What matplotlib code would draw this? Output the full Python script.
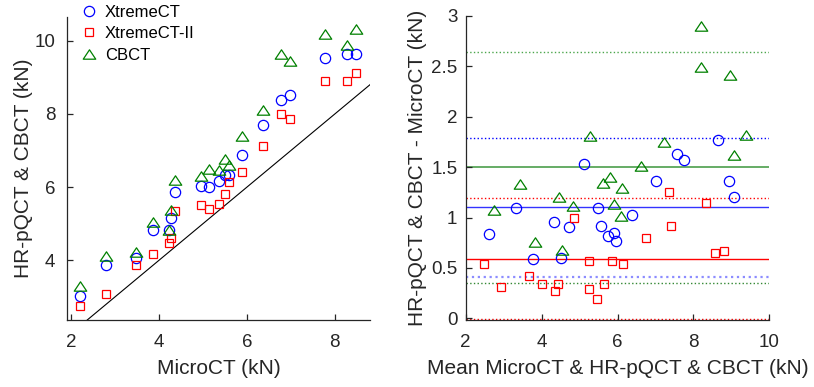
import matplotlib
matplotlib.use("Agg")
import matplotlib.pyplot as plt
from matplotlib.path import Path
import numpy as np

plt.rcParams['font.family'] = ['Liberation Sans', 'DejaVu Sans']

# ---- Left panel data (MicroCT vs device) ----
micro = [2.205, 2.788, 3.477, 3.856, 4.22, 4.28, 4.36, 4.95, 5.13, 5.36,
         5.51, 5.60, 5.89, 6.36, 6.77, 6.98, 7.77, 8.28, 8.48]
xtreme = [3.03, 3.86, 4.06, 4.82, 4.82, 5.17, 5.88, 6.03, 6.01, 6.17,
          6.33, 6.34, 6.89, 7.70, 8.38, 8.52, 9.52, 9.63, 9.65]
xtreme2 = [2.75, 3.08, 3.87, 4.18, 4.48, 4.62, 5.36, 5.51, 5.39, 5.54,
           5.82, 6.15, 6.41, 7.13, 8.00, 7.87, 8.89, 8.90, 9.13]
cbct = [3.30, 4.13, 4.24, 5.05, 4.84, 5.37, 6.19, 6.30, 6.51, 6.48,
        6.78, 6.60, 7.40, 8.11, 9.65, 9.45, 10.18, 9.88, 10.31]

# ---- Right panel data (mean vs difference) ----
xt_mean = [2.62, 3.33, 3.77, 4.33, 4.51, 4.73, 5.13, 5.49, 5.56, 5.76,
           5.91, 5.97, 6.39, 7.02, 7.57, 7.75, 8.64, 8.94, 9.06]
xt_diff = [0.834, 1.09, 0.59, 0.96, 0.60, 0.906, 1.53, 1.09, 0.916, 0.82,
           0.85, 0.77, 1.025, 1.36, 1.634, 1.57, 1.77, 1.36, 1.20]
x2_mean = [2.47, 2.93, 3.68, 4.02, 4.34, 4.44, 4.85, 5.24, 5.26, 5.45,
           5.64, 5.86, 6.14, 6.74, 7.36, 7.41, 8.32, 8.58, 8.80]
x2_diff = [0.54, 0.31, 0.42, 0.34, 0.275, 0.34, 1.00, 0.566, 0.294, 0.195,
           0.34, 0.572, 0.54, 0.797, 1.254, 0.916, 1.14, 0.645, 0.67]
cb_mean = [2.74, 3.44, 3.83, 4.45, 4.55, 4.83, 5.27, 5.61, 5.81, 5.92,
           6.12, 6.08, 6.63, 7.22, 8.20, 8.20, 8.96, 9.06, 9.38]
cb_diff = [1.075, 1.33, 0.754, 1.20, 0.68, 1.11, 1.81, 1.34, 1.40, 1.135,
           1.29, 1.02, 1.515, 1.75, 2.90, 2.49, 2.41, 1.62, 1.82]

# bias and limits of agreement: [lower, mean, upper]
xt_lines = [0.413, 1.101, 1.789]
x2_lines = [-0.012, 0.588, 1.19]
cb_lines = [0.347, 1.498, 2.642]

labels = ['XtremeCT', 'XtremeCT-II', 'CBCT']

BLUE = '#0000ff'
RED = '#ff0000'
GREEN = '#008000'
AX = '#262626'

tri = Path([(0, 0.75), (-1, -0.75), (1, -0.75), (0, 0.75)],
           [Path.MOVETO, Path.LINETO, Path.LINETO, Path.CLOSEPOLY])

mk_circ = dict(marker='o', ms=7.4, mfc='none', mec=BLUE, mew=0.9, ls='none')
mk_sq = dict(marker='s', ms=6.0, mfc='none', mec=RED, mew=0.9, ls='none')
mk_tri = dict(marker=tri, ms=9.0, mfc='none', mec=GREEN, mew=0.9, ls='none')

fig = plt.figure(figsize=(8.14, 3.87), dpi=100)
ax1 = fig.add_axes([67/814, 1-320/387, 303/814, 303/387])
ax2 = fig.add_axes([465.7/814, 1-320/387, 303.6/814, 304/387])


def style(ax, ypad):
    for s in ['top', 'right']:
        ax.spines[s].set_visible(False)
    for s in ['left', 'bottom']:
        ax.spines[s].set_color(AX)
        ax.spines[s].set_linewidth(0.9)
    ax.tick_params(direction='in', length=4, width=0.9, colors=AX,
                   labelsize=13.5)
    ax.tick_params(axis='x', pad=10)
    ax.tick_params(axis='y', pad=ypad)


# Left
ax1.set_xlim(1.91, 8.8)
ax1.set_ylim(2.37, 10.65)
ax1.plot([0, 12], [0, 12], color='black', lw=0.8, zorder=1)
h1, = ax1.plot(micro, xtreme, **mk_circ, label=labels[0])
h2, = ax1.plot(micro, xtreme2, **mk_sq, label=labels[1])
h3, = ax1.plot(micro, cbct, **mk_tri, label=labels[2])
ax1.set_xticks([2, 4, 6, 8])
ax1.set_yticks([4, 6, 8, 10])
style(ax1, 8.5)
ax1.set_xlabel('MicroCT (kN)', fontsize=15, color=AX, labelpad=6)
ax1.set_ylabel('HR-pQCT & CBCT (kN)', fontsize=15, color=AX, labelpad=1)

fig.legend(handles=[h1, h2, h3], loc='upper left',
           bbox_to_anchor=(81/814, 1-5/387), frameon=False, fontsize=12,
           handlelength=1.0, handletextpad=0.44, labelspacing=0.38,
           borderpad=0, borderaxespad=0)

# Right
ax2.set_xlim(2, 10)
ax2.set_ylim(-0.017, 3.0)
ax2.axhline(x2_lines[1], color=RED, lw=1.0, zorder=1)
ax2.axhline(x2_lines[2], color=RED, lw=1.0, ls=':', zorder=1)
ax2.axhline(x2_lines[0], color=RED, lw=1.0, ls=':', zorder=1, clip_on=False)
ax2.axhline(xt_lines[1], color='#3333ff', lw=1.0, zorder=1)
ax2.axhline(xt_lines[2], color=BLUE, lw=1.0, ls=':', zorder=1)
ax2.axhline(xt_lines[0], color='#8c8cff', lw=1.6, ls=':', zorder=1)
ax2.axhline(cb_lines[1], color='#4c9e4c', lw=1.2, zorder=1)
ax2.axhline(cb_lines[2], color='#4ca64c', lw=1.0, ls=':', zorder=1)
ax2.axhline(cb_lines[0], color='#338833', lw=1.0, ls=':', zorder=1)
ax2.plot(xt_mean, xt_diff, **mk_circ)
ax2.plot(x2_mean, x2_diff, **mk_sq)
ax2.plot(cb_mean, cb_diff, **mk_tri)
ax2.set_xticks([2, 4, 6, 8, 10])
ax2.set_yticks([0, 0.5, 1, 1.5, 2, 2.5, 3])
ax2.set_yticklabels(['0', '0.5', '1', '1.5', '2', '2.5', '3'])
style(ax2, 6)
ax2.set_xlabel('Mean MicroCT & HR-pQCT & CBCT (kN)', fontsize=15, color=AX,
               labelpad=6)
ax2.set_ylabel('HR-pQCT & CBCT - MicroCT (kN)', fontsize=15, color=AX,
               labelpad=3)

fig.savefig('out.png', dpi=100)
